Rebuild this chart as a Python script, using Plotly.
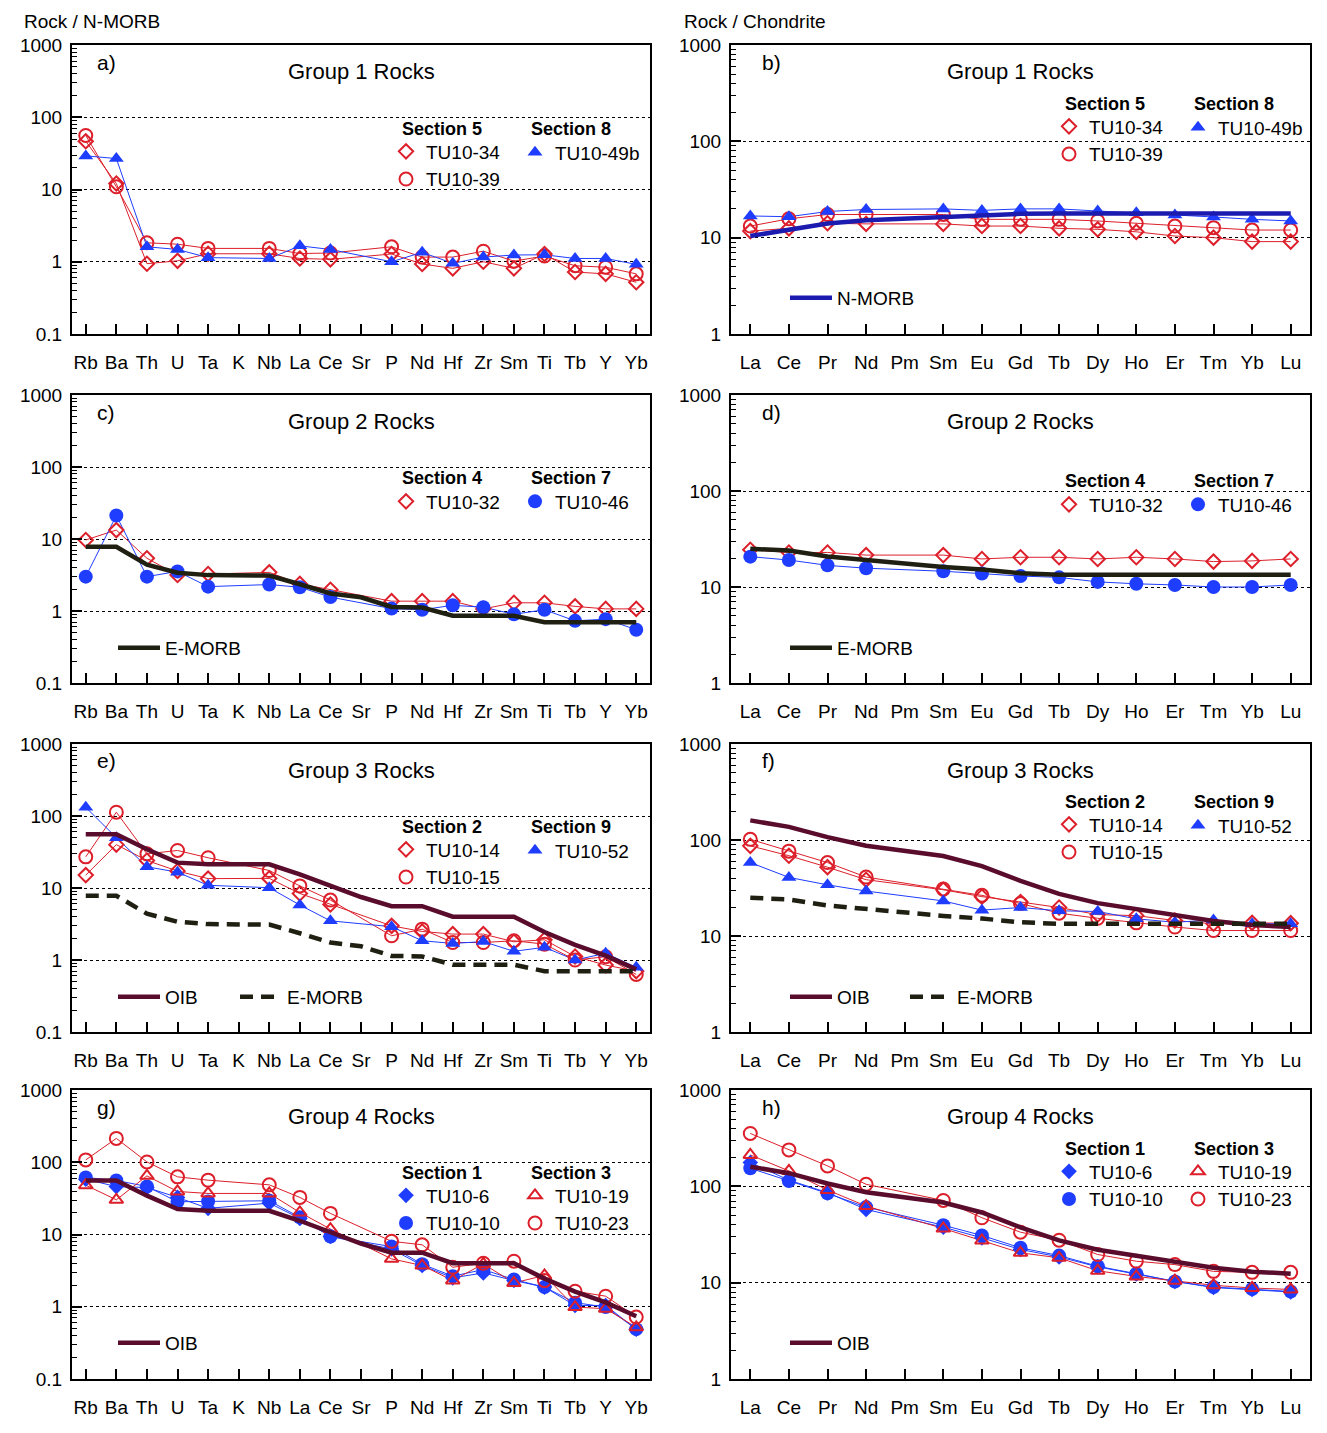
import plotly.graph_objects as go

W, H = 1327, 1433
OFF = 8                      # browser body margin
WF, HF = W - OFF, H - OFF    # figure size
FONT = "Arial, 'Liberation Sans', Helvetica, sans-serif"

# ---------------- element orders / tick labels ----------------
spider_elements = ["Rb", "Ba", "Th", "U", "Ta", "K", "Nb", "La", "Ce", "Sr",
                   "P", "Nd", "Hf", "Zr", "Sm", "Ti", "Tb", "Y", "Yb"]
ree_elements = ["La", "Ce", "Pr", "Nd", "Pm", "Sm", "Eu", "Gd", "Tb", "Dy",
                "Ho", "Er", "Tm", "Yb", "Lu"]

# ---------------- reference compositions ----------------
nmorb_ree = [10.4, 12.1, 14.0, 15.2, None, 16.5, 17.4, 17.7, 17.8, 17.8, 17.8, 17.8, 17.8, 17.8, 17.8]
emorb_ree = [25.0, 24.0, 20.8, 19.0, None, 16.2, 15.2, 13.9, 13.4, 13.4, 13.4, 13.4, 13.4, 13.4, 13.4]
oib_ree = [160, 137, 107, 87, None, 68, 53.5, 37.5, 27.5, 22.0, 19.2, 16.5, 14.3, 13.0, 12.4]
emorb_spider = [7.8, 7.8, 4.4, 3.4, 3.15, 3.1, 3.1, 2.35, 1.75, 1.55, 1.14, 1.12, 0.86, 0.86, 0.86, 0.70, 0.70, 0.70, 0.70]
oib_spider = [56, 56, 34.5, 22.5, 21.3, 21.3, 21.3, 15.5, 10.6, 7.5, 5.6, 5.6, 4.0, 4.0, 4.0, 2.45, 1.62, 1.15, 0.74]

# ---------------- Group 1 ----------------
tu10_34_spider = [46.6, 12.1, 0.94, 1.03, 1.29, None, 1.29, 1.11, 1.08, None, 1.28, 0.93, 0.81, 1.0, 0.81, 1.28, 0.72, 0.68, 0.52]
tu10_39_spider = [56, 10.9, 1.83, 1.75, 1.53, None, 1.53, 1.30, 1.32, None, 1.61, 1.16, 1.16, 1.40, 1.02, 1.2, 0.88, 0.84, 0.68]
tu10_49b_spider = [29.2, 26.8, 1.61, 1.48, 1.14, None, 1.11, 1.66, 1.48, None, 1.0, 1.35, 0.95, 1.16, 1.24, 1.25, 1.11, 1.11, 0.92]
tu10_34_ree = [11.7, 12.5, 14.1, 13.9, None, 13.9, 13.2, 13.2, 12.5, 12.2, 11.5, 10.4, 10.0, 9.1, 9.1]
tu10_39_ree = [13.2, 15.7, 17.4, 17.4, None, 17.4, 15.5, 15.5, 15.5, 14.9, 14.1, 13.2, 12.7, 12.0, 12.0]
tu10_49b_ree = [16.8, 16.5, 18.7, 19.6, None, 19.9, 19.2, 19.9, 19.9, 18.9, 18.1, 17.2, 16.4, 15.5, 14.9]

# ---------------- Group 2 ----------------
tu10_32_spider = [9.7, 13.3, 5.4, 3.16, 3.26, None, 3.44, 2.38, 1.97, None, 1.37, 1.37, 1.37, 1.07, 1.3, 1.3, 1.16, 1.07, 1.07]
tu10_46_spider = [3.0, 21.2, 3.0, 3.55, 2.18, None, 2.33, 2.14, 1.56, None, 1.08, 1.04, 1.2, 1.13, 0.9, 1.04, 0.73, 0.77, 0.55]
tu10_32_ree = [24.4, 22.9, 22.9, 21.5, None, 21.5, 19.6, 20.4, 20.4, 19.6, 20.4, 19.6, 18.4, 18.7, 19.6]
tu10_46_ree = [20.7, 19.1, 16.8, 15.7, None, 14.6, 13.8, 13.0, 12.6, 11.3, 10.8, 10.5, 10.0, 10.0, 10.5]

# ---------------- Group 3 ----------------
tu10_14_spider = [15.1, 40, 24.1, 17.2, 13.5, None, 13.6, 8.4, 5.9, None, 2.98, 2.49, 2.29, 2.29, 1.79, 1.91, 1.12, 0.85, 0.70]
tu10_15_spider = [27.1, 113, 29.8, 33.2, 26.3, None, 17.5, 10.7, 6.8, None, 2.17, 2.68, 1.75, 1.75, 1.85, 1.66, 1.0, 1.11, 0.63]
tu10_52_spider = [132, 50, 19.7, 16.6, 10.9, None, 10.1, 5.8, 3.5, None, 2.9, 1.85, 1.7, 1.8, 1.32, 1.5, 1.0, 1.24, 0.79]
tu10_14_ree = [86.9, 68.6, 52.1, 38.6, None, 30.3, 25.7, 22.6, 19.8, 16.7, 16.3, 14.5, 13.4, 13.7, 13.6]
tu10_15_ree = [101.6, 76.5, 58.2, 41.1, None, 30.8, 26.5, 21.8, 17.3, 15.3, 13.7, 12.4, 11.4, 11.4, 11.4]
tu10_52_ree = [58.2, 40.8, 34.1, 29.4, None, 23.2, 18.6, 19.8, 18.3, 18.0, 15.1, 13.9, 14.7, 13.4, 13.4]

# ---------------- Group 4 ----------------
tu10_6_spider = [58.3, 46, 44.7, 32.6, 23.0, None, 27.2, 16.7, 9.4, None, 6.3, 3.72, 2.51, 2.94, 2.31, 1.87, 1.04, 1.04, 0.49]
tu10_10_spider = [61.5, 56, 46.2, 28.4, 28.7, None, 29.3, 17.3, 9.4, None, 6.8, 3.88, 2.65, 3.27, 2.38, 1.87, 1.14, 0.99, 0.49]
tu10_19_spider = [48.2, 30.2, 64.8, 39.4, 37, None, 37, 20.2, 11.9, None, 4.6, 3.72, 2.31, 3.92, 2.14, 2.71, 0.99, 0.94, 0.52]
tu10_23_spider = [107.7, 214, 101, 62.8, 56.5, None, 48.7, 32.6, 19.6, None, 8.05, 7.2, 3.52, 4.0, 4.27, 2.3, 1.64, 1.40, 0.72]
tu10_6_ree = [176.5, 116, 86, 57.5, None, 37.7, 29.2, 22.1, 18.5, 14.6, 12.3, 10.3, 8.9, 8.5, 8.0]
tu10_10_ree = [154, 113.7, 84.5, 60.9, None, 39.5, 30.9, 23.0, 19.1, 14.8, 12.4, 10.3, 9.0, 8.6, 8.1]
tu10_19_ree = [212, 144.5, 91.6, 62.4, None, 36.5, 27.4, 20.4, 18.1, 13.3, 11.6, 10.5, 9.4, 8.8, 8.5]
tu10_23_ree = [354, 239, 163, 105, None, 71.4, 47.2, 33.4, 27.6, 19.6, 16.7, 15.4, 13.1, 12.8, 12.8]

# ---------------- styles ----------------
RED = "#dc1f2a"
BLUE = "#1e3dff"
NMORB_C = "#1b1bb0"
OIB_C = "#5a0c2c"
EMORB_C = "#1f1f12"

MARK = {
    "rd": dict(color=RED, marker=dict(symbol="diamond-open", size=11, color=RED, line=dict(color=RED, width=2))),
    "ro": dict(color=RED, marker=dict(symbol="circle-open", size=13, color=RED, line=dict(color=RED, width=2))),
    "rt": dict(color=RED, marker=dict(symbol="triangle-up-open", size=12, color=RED, line=dict(color=RED, width=2))),
    "bt": dict(color=BLUE, marker=dict(symbol="triangle-up", size=13, color=BLUE, line=dict(width=0))),
    "bo": dict(color=BLUE, marker=dict(symbol="circle", size=14, color=BLUE, line=dict(width=0))),
    "bd": dict(color=BLUE, marker=dict(symbol="diamond", size=12, color=BLUE, line=dict(width=0))),
}
REF = {
    "nmorb": dict(color=NMORB_C, width=4.5),
    "emorb": dict(color=EMORB_C, width=4.5),
    "emorb_dash": dict(color=EMORB_C, width=4.5, dash="13px,8px"),
    "oib": dict(color=OIB_C, width=4.5),
}

# ---------------- panel layout (page pixels) ----------------
COLS = [(72, 650), (731, 1310)]
ROWS = [(45, 334), (395, 683), (744, 1032), (1090, 1379)]

panels = [
    dict(letter="a)", title="Group 1 Rocks", kind="spider", col=0, row=0, hdr=84,
         sections=["Section 5", "Section 8"],
         samples=[[("TU10-34", tu10_34_spider, "rd"), ("TU10-39", tu10_39_spider, "ro")],
                  [("TU10-49b", tu10_49b_spider, "bt")]],
         refs=[]),
    dict(letter="b)", title="Group 1 Rocks", kind="ree", col=1, row=0, hdr=59,
         sections=["Section 5", "Section 8"],
         samples=[[("TU10-34", tu10_34_ree, "rd"), ("TU10-39", tu10_39_ree, "ro")],
                  [("TU10-49b", tu10_49b_ree, "bt")]],
         refs=[("N-MORB", nmorb_ree, "nmorb", 59)]),
    dict(letter="c)", title="Group 2 Rocks", kind="spider", col=0, row=1, hdr=83,
         sections=["Section 4", "Section 7"],
         samples=[[("TU10-32", tu10_32_spider, "rd")],
                  [("TU10-46", tu10_46_spider, "bo")]],
         refs=[("E-MORB", emorb_spider, "emorb", 46)]),
    dict(letter="d)", title="Group 2 Rocks", kind="ree", col=1, row=1, hdr=86,
         sections=["Section 4", "Section 7"],
         samples=[[("TU10-32", tu10_32_ree, "rd")],
                  [("TU10-46", tu10_46_ree, "bo")]],
         refs=[("E-MORB", emorb_ree, "emorb", 59)]),
    dict(letter="e)", title="Group 3 Rocks", kind="spider", col=0, row=2, hdr=83,
         sections=["Section 2", "Section 9"],
         samples=[[("TU10-14", tu10_14_spider, "rd"), ("TU10-15", tu10_15_spider, "ro")],
                  [("TU10-52", tu10_52_spider, "bt")]],
         refs=[("OIB", oib_spider, "oib", 46), ("E-MORB", emorb_spider, "emorb_dash", 168)]),
    dict(letter="f)", title="Group 3 Rocks", kind="ree", col=1, row=2, hdr=58,
         sections=["Section 2", "Section 9"],
         samples=[[("TU10-14", tu10_14_ree, "rd"), ("TU10-15", tu10_15_ree, "ro")],
                  [("TU10-52", tu10_52_ree, "bt")]],
         refs=[("OIB", oib_ree, "oib", 59), ("E-MORB", emorb_ree, "emorb_dash", 179)]),
    dict(letter="g)", title="Group 4 Rocks", kind="spider", col=0, row=3, hdr=83,
         sections=["Section 1", "Section 3"],
         samples=[[("TU10-6", tu10_6_spider, "bd"), ("TU10-10", tu10_10_spider, "bo")],
                  [("TU10-19", tu10_19_spider, "rt"), ("TU10-23", tu10_23_spider, "ro")]],
         refs=[("OIB", oib_spider, "oib", 46)]),
    dict(letter="h)", title="Group 4 Rocks", kind="ree", col=1, row=3, hdr=59,
         sections=["Section 1", "Section 3"],
         samples=[[("TU10-6", tu10_6_ree, "bd"), ("TU10-10", tu10_10_ree, "bo")],
                  [("TU10-19", tu10_19_ree, "rt"), ("TU10-23", tu10_23_ree, "ro")]],
         refs=[("OIB", oib_ree, "oib", 59)]),
]


def fx(p):
    return (p - OFF) / WF


def fy(p):
    return 1 - (p - OFF) / HF


fig = go.Figure()
layout = {}
annotations = []
legend_n = [0]


def new_legend(x_px, y_px, itemwidth=30):
    legend_n[0] += 1
    name = "legend" if legend_n[0] == 1 else f"legend{legend_n[0]}"
    layout[name] = dict(x=fx(x_px), y=fy(y_px), xanchor="left", yanchor="middle",
                        bgcolor="rgba(0,0,0,0)", borderwidth=0, orientation="v",
                        font=dict(family=FONT, size=19, color="black"),
                        itemwidth=itemwidth, tracegroupgap=0, traceorder="normal",
                        itemclick=False, itemdoubleclick=False)
    return name


def ann(text, x_px, y_px, size, xanchor="left", bold=False):
    annotations.append(dict(text=f"<b>{text}</b>" if bold else text, x=fx(x_px), y=fy(y_px),
                            xref="paper", yref="paper", xanchor=xanchor, yanchor="middle",
                            showarrow=False, font=dict(family=FONT, size=size, color="black")))


minor_vals = [m * 10 ** e for e in range(-1, 3) for m in range(2, 10)]

for i, p in enumerate(panels, start=1):
    sfx = "" if i == 1 else str(i)
    xa, ya = "x" + sfx, "y" + sfx
    x0, x1 = COLS[p["col"]]
    top, bot = ROWS[p["row"]]
    elements = spider_elements if p["kind"] == "spider" else ree_elements
    pad = 0.45 if p["kind"] == "spider" else 0.5
    if p["kind"] == "spider":
        yr, yt, ytt = [-1, 3], [0.1, 1, 10, 100, 1000], ["0.1", "1", "10", "100", "1000"]
    else:
        yr, yt, ytt = [0, 3], [1, 10, 100, 1000], ["1", "10", "100", "1000"]

    layout["xaxis" + sfx] = dict(
        domain=[fx(x0), fx(x1)], anchor=ya, type="category",
        categoryorder="array", categoryarray=elements,
        range=[-pad, len(elements) - 1 + pad],
        tickmode="array", tickvals=elements, ticktext=elements,
        ticks="inside", ticklen=10, tickwidth=1.5, tickcolor="black",
        showline=True, linewidth=2, linecolor="black", mirror=True,
        showgrid=False, zeroline=False, automargin=False,
        tickfont=dict(family=FONT, size=19, color="black"), ticklabelstandoff=10)
    layout["yaxis" + sfx] = dict(
        domain=[fy(bot), fy(top)], anchor=xa, type="log", range=yr,
        tickmode="array", tickvals=yt, ticktext=ytt,
        ticks="inside", ticklen=10, tickwidth=1.5, tickcolor="black",
        minor=dict(tickmode="array", tickvals=minor_vals, ticks="inside", ticklen=5,
                   tickwidth=1, tickcolor="black", showgrid=False),
        showline=True, linewidth=2, linecolor="black", mirror=True,
        showgrid=True, gridcolor="black", gridwidth=1, griddash="dot",
        zeroline=False, automargin=False,
        tickfont=dict(family=FONT, size=19, color="black"), ticklabelstandoff=4)

    # sample lines
    for col in p["samples"]:
        for name, vals, st in col:
            fig.add_trace(go.Scatter(x=elements, y=vals, mode="lines", connectgaps=True,
                                     line=dict(color=MARK[st]["color"], width=1),
                                     showlegend=False, hoverinfo="skip", xaxis=xa, yaxis=ya))
    # sample markers with legends
    hx = [x0 + 328 + 4 * p["col"], x0 + 457 + 4 * p["col"]]
    for c, col in enumerate(p["samples"]):
        n = len(col)
        ymid = top + p["hdr"] + 23.5 + (n - 1) * 13
        leg = new_legend(hx[c] + 6 - 20, ymid)
        for name, vals, st in col:
            fig.add_trace(go.Scatter(x=elements, y=vals, mode="markers", name=name,
                                     marker=MARK[st]["marker"], legend=leg,
                                     xaxis=xa, yaxis=ya))
        ann(p["sections"][c], hx[c], top + p["hdr"], 18, bold=True)
    # reference lines
    for name, vals, st, lx in p["refs"]:
        leg = new_legend(x0 + lx - 5, top + 253, itemwidth=42)
        fig.add_trace(go.Scatter(x=elements, y=vals, mode="lines", connectgaps=True,
                                 name=name, line=REF[st], legend=leg,
                                 xaxis=xa, yaxis=ya))
    # panel letter and title
    ann(p["letter"], x0 + (23 if p["col"] == 0 else 29), top + 17, 21)
    ann(p["title"], (x0 + x1) / 2, top + 26, 22, xanchor="center")

ann("Rock / N-MORB", 22, 22, 19)
ann("Rock / Chondrite", 682, 22, 19)

fig.update_layout(width=WF, height=HF, margin=dict(l=0, r=0, t=0, b=0),
                  paper_bgcolor="white", plot_bgcolor="white", showlegend=True,
                  font=dict(family=FONT, color="black"), annotations=annotations,
                  hovermode=False, **layout)

fig.write_html("out.html")
